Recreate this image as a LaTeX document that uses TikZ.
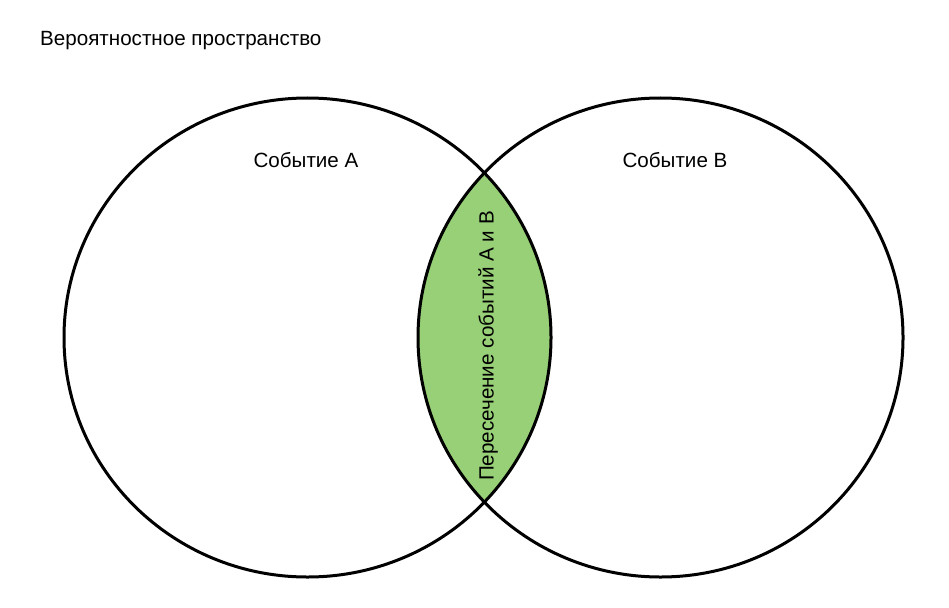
\documentclass[tikz,border=0pt]{standalone}
\usepackage{fontspec}
\setmainfont{Liberation Sans}
\definecolor{lensgreen}{HTML}{97D077}
\begin{document}
\begin{tikzpicture}[x=1pt,y=-1pt,
  outline/.style={line width=3pt,draw=black},
  lbl/.style={font=\fontsize{20.6}{24}\selectfont,inner sep=0pt}]
\useasboundingbox[fill=white] (0,0) rectangle (949,607);
\node[lbl,anchor=west] (title) at (40,41) {Вероятностное пространство};
\begin{scope}
  \clip (307.5,337.5) ellipse [x radius=243.5, y radius=239.5];
  \fill[lensgreen] (660.5,337.5) ellipse [x radius=242.5, y radius=239.5];
\end{scope}
\draw[outline] (307.5,337.5) ellipse [x radius=243.5, y radius=239.5];
\draw[outline] (660.5,337.5) ellipse [x radius=242.5, y radius=239.5];
\coordinate (cA) at (307.5,337.5);
\coordinate (cB) at (660.5,337.5);
\node[lbl] (la) at (306,160) {Событие А};
\node[lbl] (lb) at (675,160) {Событие В};
\node[lbl,rotate=90] (li) at (488,346) {Пересечение событий А и В};
\end{tikzpicture}
\end{document}
